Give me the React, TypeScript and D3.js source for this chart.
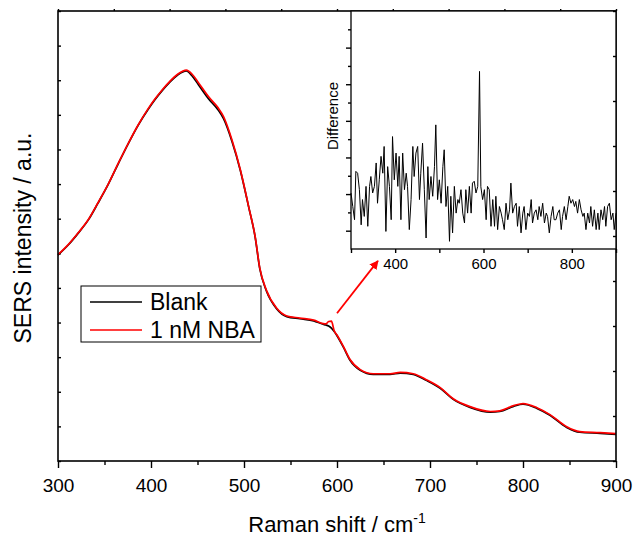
import React, { useRef, useEffect } from "react";
import * as d3 from "d3";

// main spectra (Raman shift in cm-1, intensity in arbitrary units)
const shift = [300, 311, 322, 333, 343, 354, 365, 376, 386, 397, 404, 412, 420, 429, 438, 444, 451, 462, 472, 478, 487, 496, 505, 512, 517, 524, 535, 546, 560, 575, 585, 588, 591, 594, 597, 600, 607, 614, 625, 639, 657, 668, 682, 696, 711, 725, 743, 765, 775, 790, 800, 815, 829, 847, 861, 883, 900];
const blank = [59.5, 62.4, 65.9, 69.8, 74.5, 79.9, 86.0, 91.9, 96.9, 101.6, 104.3, 107.0, 109.4, 111.6, 112.7, 111.3, 108.7, 104.6, 101.5, 98.9, 92.4, 84.0, 73.4, 64.7, 55.5, 49.2, 44.0, 41.7, 41.1, 40.5, 39.5, 39.3, 39.0, 38.4, 37.4, 36.2, 32.8, 29.1, 26.2, 25.0, 25.0, 25.4, 25.0, 23.3, 21.0, 17.8, 15.5, 14.1, 14.3, 15.8, 16.4, 15.2, 13.2, 9.7, 8.3, 8.0, 7.7];
const nba = [59.6, 62.5, 66.0, 69.9, 74.6, 80.0, 86.1, 92.0, 97.0, 101.8, 104.5, 107.2, 109.6, 111.8, 112.9, 111.8, 109.3, 105.2, 102.1, 99.5, 92.8, 84.2, 73.5, 64.8, 55.7, 49.4, 44.2, 41.9, 41.3, 40.7, 39.7, 39.6, 40.3, 40.4, 37.6, 36.4, 33.0, 29.3, 26.4, 25.2, 25.2, 25.6, 25.2, 23.5, 21.2, 18.0, 15.7, 14.3, 14.5, 16.0, 16.6, 15.4, 13.4, 9.9, 8.5, 8.2, 7.9];

// inset: difference spectrum
const diffShift = [
  300, 304, 308, 311, 315, 319, 323, 326, 330, 334,
  338, 342, 345, 349, 353, 357, 360, 364, 368, 372,
  375, 379, 383, 387, 391, 394, 398, 402, 406, 409,
  413, 417, 421, 425, 428, 432, 436, 440, 443, 447,
  451, 455, 458, 462, 466, 470, 474, 477, 481, 485,
  489, 492, 496, 500, 504, 508, 511, 515, 519, 523,
  526, 530, 534, 538, 542, 545, 549, 553, 557, 560,
  564, 568, 572, 575, 579, 583, 587, 591, 594, 598,
  602, 606, 609, 613, 617, 621, 625, 628, 632, 636,
  640, 643, 647, 651, 655, 659, 662, 666, 670, 674,
  677, 681, 685, 689, 692, 696, 700, 704, 708, 711,
  715, 719, 723, 726, 730, 734, 738, 742, 745, 749,
  753, 757, 760, 764, 768, 772, 776, 779, 783, 787,
  791, 794, 798, 802, 806, 809, 813, 817, 821, 825,
  828, 832, 836, 840, 843, 847, 851, 855, 859, 862,
  866, 870, 874, 877, 881, 885, 889, 893, 896, 900,
];
const diffValue = [
  10.3, 6.6, 3.0, 16.2, 15.7, 11.2, 1.6, 8.5, 3.9, 12.1,
  1.2, 12.1, 14.8, 10.3, 12.1, 18.5, 7.5, 13.9, 20.3, 15.7,
  23.0, -0.2, 17.5, 12.1, 3.0, 25.7, 13.9, 21.2, 12.1, 20.3,
  3.0, 21.2, 11.2, 15.7, 12.1, 0.3, 8.5, 23.0, 14.8, 21.2,
  23.0, 8.5, 15.7, 23.9, 11.2, -2.0, 17.5, 8.5, 14.8, 9.4,
  17.5, 28.9, 8.5, 13.9, 7.5, 17.5, 22.1, 6.6, 12.1, -2.9,
  9.4, -0.6, 12.1, 4.8, 8.5, 7.5, 11.2, 4.8, 2.1, 11.2,
  4.8, 12.1, 4.8, 13.0, 13.5, 10.3, 12.1, 43.5, 12.0, 8.5,
  11.2, 3.0, 12.1, 11.2, 1.2, 8.5, 1.2, 9.4, 0.3, 6.6,
  4.8, 3.0, 0.3, 7.5, 3.0, 5.7, 13.0, 4.8, 6.6, 7.5,
  1.2, 6.6, -0.6, 4.8, 6.6, 0.3, 4.8, 3.9, 8.5, 2.1,
  4.8, 5.7, 3.0, 6.6, 3.9, 7.5, 2.1, 4.8, 3.9, -0.6,
  3.9, 6.6, 3.0, 3.0, 4.8, 5.7, 0.3, 3.9, 6.6, 3.0,
  6.6, 9.4, 7.5, 8.5, 6.6, 8.0, 4.8, 8.5, 5.7, 3.9,
  4.8, 0.3, 4.8, 2.1, 6.6, 1.2, 5.7, 0.3, 4.8, 0.3,
  5.7, 3.0, 6.6, 1.2, 6.6, 7.5, 3.0, 4.8, 0.3, 4.8,
];

const xMajor = [300, 400, 500, 600, 700, 800, 900];
const xMinor = [350, 450, 550, 650, 750, 850];
const leftTicks = [0, 10, 20, 30, 40, 50, 60, 70, 80, 90, 100, 110, 120, 130];
const rightTicks = [0, 10, 20, 30, 40, 50, 60, 70, 80, 90, 100];
const topTicks = [0, 1, 2, 3, 4, 5, 6, 7, 8, 9, 10];
const insetXTicks = [300, 400, 500, 600, 700, 800, 900];
const insetXLabels = [400, 600, 800];
const insetYMajor = [0, 10, 20, 30, 40, 50];
const insetYMinor = [5, 15, 25, 35, 45, 55];

const legendLabels = ["Blank", "1 nM NBA"];
const colors = ["#000000", "#ff0000"];
// arrow from the 590 cm-1 feature to the inset (data units)
const arrowFrom = [600, 42.7];
const arrowTo = [644, 57.8];

const FONT = "'Liberation Sans', Arial, sans-serif";

const App = () => {
  const svgRef = useRef(null);

  useEffect(() => {
    const svg = d3.select(svgRef.current);
    svg.selectAll("*").remove();

    const x = d3.scaleLinear().domain([300, 900]).range([58, 616]);
    const y = d3.scaleLinear().domain([0, 130]).range([461, 11]);
    const yRight = d3.scaleLinear().domain([0, 100]).range([461, 11]);
    const xTop = d3.scaleLinear().domain([0, 10]).range([58, 616]);

    const styleAxis = (g, size) => {
      g.attr("font-family", FONT).attr("font-size", size);
      g.selectAll("text").attr("fill", "#000");
      g.selectAll("line").attr("stroke", "#000").attr("stroke-width", 1.4);
      g.select(".domain").remove();
    };

    // bottom axis
    svg.append("g").attr("transform", "translate(0,461)")
      .call(d3.axisBottom(x).tickValues(xMajor).tickSize(7).tickPadding(11).tickSizeOuter(0))
      .call(g => styleAxis(g, 19));
    svg.append("g").attr("transform", "translate(0,461)")
      .call(d3.axisBottom(x).tickValues(xMinor).tickSize(4).tickFormat(() => ""))
      .call(g => styleAxis(g, 19));

    // left axis: inward ticks, no labels
    svg.append("g").attr("transform", "translate(58,0)")
      .call(d3.axisRight(y).tickValues(leftTicks).tickSize(3).tickFormat(() => ""))
      .call(g => styleAxis(g, 10));

    // top axis: tiny outward ticks
    svg.append("g").attr("transform", "translate(0,11)")
      .call(d3.axisTop(xTop).tickValues(topTicks).tickSize(2).tickFormat(() => ""))
      .call(g => styleAxis(g, 10));

    // curves
    const lineGen = (vals) => d3.line()
      .x((d, i) => x(shift[i]))
      .y(d => y(d))
      .curve(d3.curveMonotoneX)(vals);

    [blank, nba].forEach((vals, i) => {
      svg.append("path")
        .attr("d", lineGen(vals))
        .attr("fill", "none")
        .attr("stroke", colors[i])
        .attr("stroke-width", 1.7)
        .attr("stroke-linejoin", "round");
    });

    // frame
    svg.append("rect")
      .attr("x", 58).attr("y", 11).attr("width", 558).attr("height", 450)
      .attr("fill", "none").attr("stroke", "#000").attr("stroke-width", 1.6);

    // legend
    const lg = svg.append("g");
    lg.append("rect").attr("x", 81).attr("y", 286).attr("width", 180).attr("height", 56)
      .attr("fill", "#fff").attr("stroke", "#000").attr("stroke-width", 1);
    legendLabels.forEach((label, i) => {
      const ly = 302 + i * 28;
      lg.append("line").attr("x1", 90).attr("x2", 142).attr("y1", ly).attr("y2", ly)
        .attr("stroke", colors[i]).attr("stroke-width", 1.7);
      lg.append("text").attr("x", 150).attr("y", ly + 8)
        .attr("font-family", FONT).attr("font-size", 23).attr("fill", "#000")
        .text(label);
    });

    // arrow
    const defs = svg.append("defs");
    defs.append("marker").attr("id", "arrowhead")
      .attr("viewBox", "0 0 10 10").attr("refX", 9).attr("refY", 5)
      .attr("markerWidth", 5).attr("markerHeight", 5).attr("orient", "auto")
      .attr("markerUnits", "strokeWidth")
      .append("path").attr("d", "M0,0 L10,5 L0,10 z").attr("fill", "#ff0000");
    svg.append("line")
      .attr("x1", x(arrowFrom[0])).attr("y1", y(arrowFrom[1]))
      .attr("x2", x(arrowTo[0])).attr("y2", y(arrowTo[1]))
      .attr("stroke", "#ff0000").attr("stroke-width", 1.8)
      .attr("marker-end", "url(#arrowhead)");

    // inset
    const ix = d3.scaleLinear().domain([300, 900]).range([351, 616]);
    const iy = d3.scaleLinear().domain([-5, 60]).range([249, 11]);
    const inset = svg.append("g");
    inset.append("rect").attr("x", 351).attr("y", 11).attr("width", 265).attr("height", 238)
      .attr("fill", "#fff");

    inset.append("path")
      .attr("d", d3.line().x((d, i) => ix(diffShift[i])).y(d => iy(d))(diffValue))
      .attr("fill", "none").attr("stroke", "#000").attr("stroke-width", 1)
      .attr("stroke-linejoin", "round");

    inset.append("g").attr("transform", "translate(0,249)")
      .call(d3.axisBottom(ix).tickValues(insetXTicks).tickSize(4).tickPadding(5)
        .tickFormat(d => (insetXLabels.includes(d) ? String(d) : "")))
      .call(g => styleAxis(g, 15));
    inset.append("g").attr("transform", "translate(351,0)")
      .call(d3.axisLeft(iy).tickValues(insetYMajor).tickSize(5).tickFormat(() => ""))
      .call(g => styleAxis(g, 10));
    inset.append("g").attr("transform", "translate(351,0)")
      .call(d3.axisLeft(iy).tickValues(insetYMinor).tickSize(3).tickFormat(() => ""))
      .call(g => styleAxis(g, 10));

    inset.append("rect").attr("x", 351).attr("y", 11).attr("width", 265).attr("height", 238)
      .attr("fill", "none").attr("stroke", "#000").attr("stroke-width", 1.3);

    inset.append("text")
      .attr("transform", "translate(338,116) rotate(-90)")
      .attr("text-anchor", "middle")
      .attr("font-family", FONT).attr("font-size", 15).attr("fill", "#000")
      .text("Difference");

    // right axis (drawn over inset): inward ticks
    svg.append("g").attr("transform", "translate(616,0)")
      .call(d3.axisLeft(yRight).tickValues(rightTicks).tickSize(3).tickFormat(() => ""))
      .call(g => styleAxis(g, 10));

    // axis titles
    const xt = svg.append("text")
      .attr("x", 337).attr("y", 532).attr("text-anchor", "middle")
      .attr("font-family", FONT).attr("font-size", 22).attr("fill", "#000");
    xt.append("tspan").text("Raman shift / cm");
    xt.append("tspan").attr("dy", -9).attr("font-size", 14).text("-1");

    svg.append("text")
      .attr("transform", "translate(31,238) rotate(-90)")
      .attr("text-anchor", "middle")
      .attr("font-family", FONT).attr("font-size", 23).attr("fill", "#000")
      .text("SERS intensity / a.u.");
  }, []);

  return (
    <svg
      ref={svgRef}
      width={636}
      height={539}
      style={{ position: "absolute", left: 0, top: 0, background: "#fff", display: "block" }}
    />
  );
};

export default App;
